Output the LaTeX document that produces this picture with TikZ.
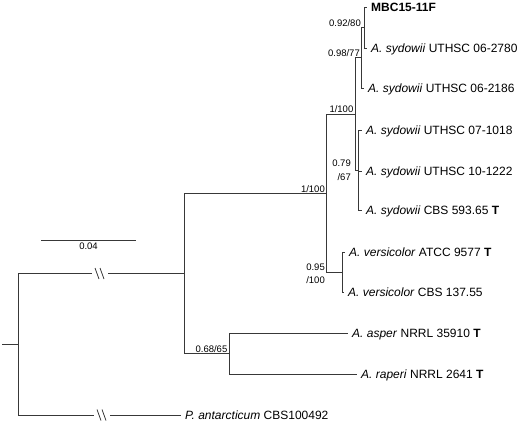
\documentclass[tikz,border=0pt]{standalone}
\usepackage{fontspec}
\setmainfont{Liberation Sans}
\begin{document}
\begin{tikzpicture}[x=1pt,y=-1pt,
  br/.style={draw=black!78,line width=0.9pt},
  leaf/.style={anchor=west,inner xsep=4pt,inner ysep=0pt,text height=8.6pt,text depth=0pt,font=\fontsize{12}{14}\selectfont},
  sup/.style={anchor=base east,inner sep=0pt,font=\fontsize{9.5}{11}\selectfont},
  suptwo/.style={anchor=east,inner sep=0pt,align=right,font=\fontsize{9.5}{13.5}\selectfont},
  brk/.style={draw=black!78,line width=0.8pt}]
\useasboundingbox (0,0) rectangle (520,424);
% internal nodes
\coordinate (r0) at (2,344);
\coordinate (R) at (18,344);
\coordinate (A) at (184,273.5);
\coordinate (B) at (326,193.5);
\coordinate (C) at (355,114);
\coordinate (D) at (361,57.5);
\coordinate (F) at (364,27.5);
\coordinate (E) at (358,170.5);
\coordinate (V) at (342,272);
\coordinate (L) at (229,353.5);
% break points
\coordinate (ba1) at (92,273.5);
\coordinate (ba2) at (108,273.5);
\coordinate (bb1) at (94,415);
\coordinate (bb2) at (110,415);
% leaves
\node[leaf] (l1) at (367,7) {\textbf{MBC15-11F}};
\node[leaf] (l2) at (367,48) {\textit{A. sydowii} UTHSC 06-2780};
\node[leaf] (l3) at (364,88) {\textit{A. sydowii} UTHSC 06-2186};
\node[leaf] (l4) at (362,130) {\textit{A. sydowii} UTHSC 07-1018};
\node[leaf] (l5) at (362,171) {\textit{A. sydowii} UTHSC 10-1222};
\node[leaf] (l6) at (362,210) {\textit{A. sydowii} CBS 593.65 \textbf{T}};
\node[leaf] (l7) at (345,252) {\textit{A. versicolor} ATCC 9577 \textbf{T}};
\node[leaf] (l8) at (344,292) {\textit{A. versicolor} CBS 137.55};
\node[leaf] (l9) at (348,333) {\textit{A. asper} NRRL 35910 \textbf{T}};
\node[leaf] (l10) at (357,374) {\textit{A. raperi} NRRL 2641 \textbf{T}};
\node[leaf] (l11) at (181,415) {\textit{P. antarcticum} CBS100492};
% branches
\draw[br] (r0) -- (R);
\draw[br] (R) |- (ba1);
\draw[br] (ba2) -- (A);
\draw[br] (R) |- (bb1);
\draw[br] (bb2) -- (l11.west);
\draw[br] (A) |- (B);
\draw[br] (A) |- (L);
\draw[br] (B) |- (C);
\draw[br] (B) |- (V);
\draw[br] (C) |- (D);
\draw[br] (C) |- (E);
\draw[br] (D) |- (F);
\draw[br] (D) |- (l3.west);
\draw[br] (F) |- (l1.west);
\draw[br] (F) |- (l2.west);
\draw[br] (E) |- (l4.west);
\draw[br] (E) |- (l5.west);
\draw[br] (E) |- (l6.west);
\draw[br] (V) |- (l7.west);
\draw[br] (V) |- (l8.west);
\draw[br] (L) |- (l9.west);
\draw[br] (L) |- (l10.west);
% break marks
\draw[brk] ([xshift=3pt,yshift=5.5pt]ba1) -- ([xshift=7pt,yshift=-5.5pt]ba1);
\draw[brk] ([xshift=8pt,yshift=5.5pt]ba1) -- ([xshift=12pt,yshift=-5.5pt]ba1);
\draw[brk] ([xshift=3pt,yshift=5.5pt]bb1) -- ([xshift=7pt,yshift=-5.5pt]bb1);
\draw[brk] ([xshift=8pt,yshift=5.5pt]bb1) -- ([xshift=12pt,yshift=-5.5pt]bb1);
% support values
\node[sup] (s1) at (361,26) {0.92/80};
\node[sup] (s2) at (360,56) {0.98/77};
\node[sup] (s3) at (353.5,112.5) {1/100};
\node[sup] (s4) at (325,192) {1/100};
\node[sup] (s5) at (227.5,352) {0.68/65};
\node[suptwo] (s6) at (351,170) {0.79\\/67};
\node[suptwo] (s7) at (325,273.5) {0.95\\/100};
% scale bar
\coordinate (sb1) at (41,240);
\coordinate (sb2) at (136,240);
\draw[br] (sb1) -- (sb2) node[midway,below=2pt,inner sep=0pt,font=\fontsize{9.5}{11}\selectfont] (sbl) {0.04};
\end{tikzpicture}
\end{document}
